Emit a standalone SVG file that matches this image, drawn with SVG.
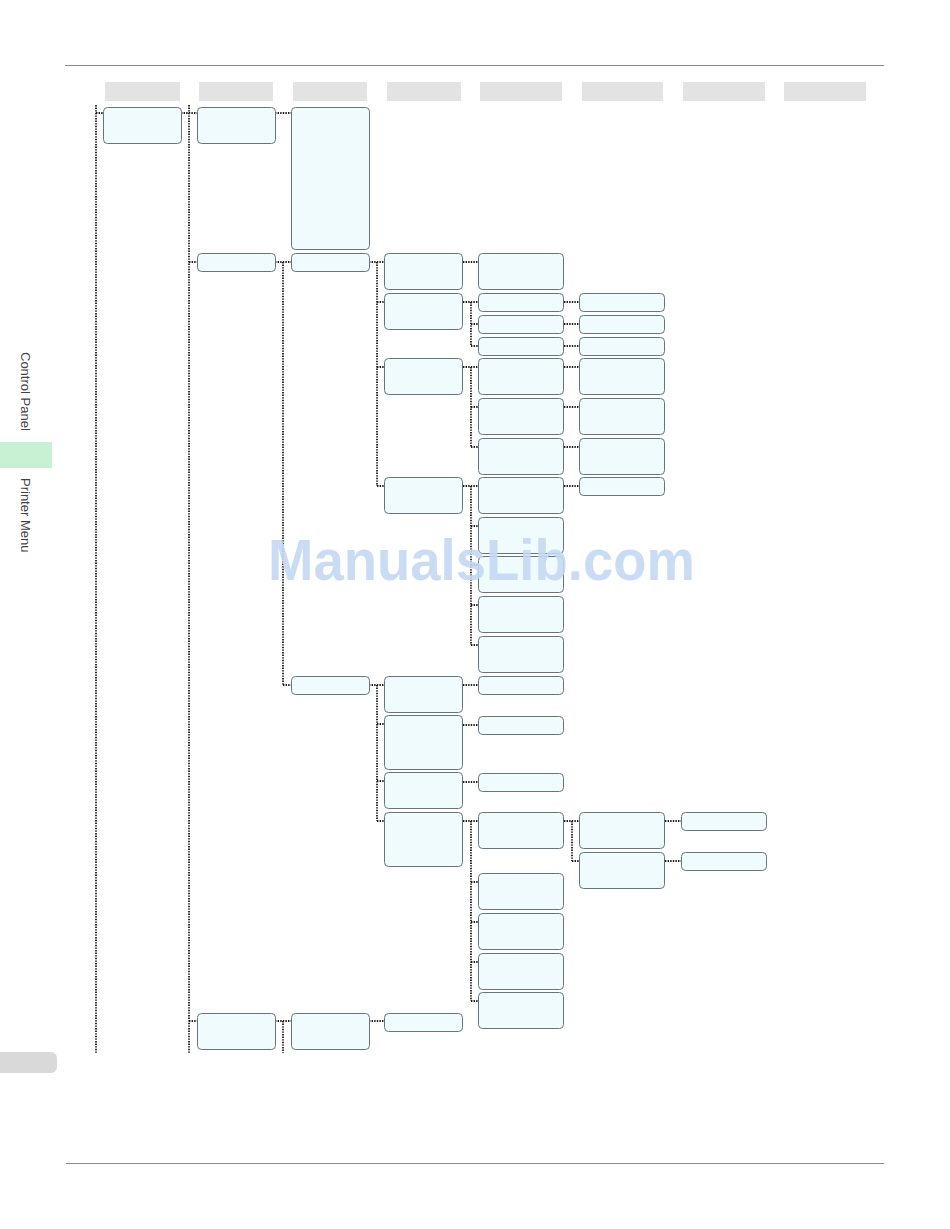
<svg xmlns="http://www.w3.org/2000/svg" width="950" height="1229" viewBox="0 0 950 1229">
<style>
.n{fill:#f0fbfe;stroke:#647679;stroke-width:1}
.h{fill:#e3e3e3}
.c{fill:none;stroke:#1a1a1a;stroke-width:1.8;stroke-dasharray:1.4 1.2}
.side{font-family:"Liberation Sans",Arial,sans-serif;font-size:13px;fill:#444}
.rule{stroke:#8a8a8a;stroke-width:1}
</style>
<rect width="950" height="1229" fill="#fff"/>
<line class="rule" x1="65" y1="65.5" x2="884" y2="65.5"/>
<line class="rule" x1="66" y1="1163.5" x2="884" y2="1163.5"/>
<g id="headers">
<rect class="h" x="105" y="82" width="75" height="19"/>
<rect class="h" x="199" y="82" width="74" height="19"/>
<rect class="h" x="293" y="82" width="74" height="19"/>
<rect class="h" x="387" y="82" width="74" height="19"/>
<rect class="h" x="480" y="82" width="82" height="19"/>
<rect class="h" x="582" y="82" width="81" height="19"/>
<rect class="h" x="683" y="82" width="82" height="19"/>
<rect class="h" x="784" y="82" width="82" height="19"/>
</g>
<g id="sidebar">
<text class="side" transform="translate(21,352) rotate(90)">Control Panel</text>
<rect x="0" y="442" width="52" height="26" fill="#c8f0d2"/>
<text class="side" transform="translate(21,478) rotate(90)">Printer Menu</text>
<path d="M0 1052 H51 a6 6 0 0 1 6 6 V1067 a6 6 0 0 1 -6 6 H0 Z" fill="#d9d9d9"/>
</g>
<g id="connectors">
<path class="c" d="M96 105 V1053 M189 105 V1053 M283 262 V685 M283 1021 V1053 M377 262 V486 M377 685 V821 M471 302 V346 M471 367 V447 M471 486 V645 M471 821 V1001 M572 821 V861"/>
<path class="c" d="M96 113 H103 M181 113 H197 M189 262 H197 M189 1021 H197 M275 113 H291 M275 262 H291 M275 1021 H291 M283 685 H291"/>
<path class="c" d="M369 262 H384 M369 685 H384 M369 1021 H384 M377 302 H384 M377 367 H384 M377 486 H384 M377 724 H384 M377 781 H384 M377 821 H384"/>
<path class="c" d="M463 262 H478 M463 302 H478 M463 367 H478 M463 486 H478 M463 685 H478 M463 725 H478 M463 782 H478 M463 821 H478 M471 324 H478 M471 346 H478 M471 407 H478 M471 447 H478 M471 526 H478 M471 565 H478 M471 605 H478 M471 645 H478 M471 882 H478 M471 922 H478 M471 962 H478 M471 1001 H478"/>
<path class="c" d="M564 302 H579 M564 324 H579 M564 346 H579 M564 367 H579 M564 407 H579 M564 447 H579 M564 486 H579 M564 821 H579 M572 861 H579 M665 821 H681 M665 861 H681"/>
</g>
<g id="col1"><rect id="n1" class="n" x="103.5" y="107.5" width="78" height="36" rx="4"/></g>
<g id="col2">
<rect id="n2a" class="n" x="197.5" y="107.5" width="78" height="36" rx="4"/>
<rect id="n2b" class="n" x="197.5" y="253.5" width="78" height="18" rx="4"/>
<rect id="n2c" class="n" x="197.5" y="1013.5" width="78" height="36" rx="4"/>
</g>
<g id="col3">
<rect id="n3a" class="n" x="291.5" y="107.5" width="78" height="142" rx="4"/>
<rect id="n3b" class="n" x="291.5" y="253.5" width="78" height="18" rx="4"/>
<rect id="n3c" class="n" x="291.5" y="676.5" width="78" height="18" rx="4"/>
<rect id="n3d" class="n" x="291.5" y="1013.5" width="78" height="36" rx="4"/>
</g>
<g id="col4">
<rect id="n4a" class="n" x="384.5" y="253.5" width="78" height="36" rx="4"/>
<rect id="n4b" class="n" x="384.5" y="293.5" width="78" height="36" rx="4"/>
<rect id="n4c" class="n" x="384.5" y="358.5" width="78" height="36" rx="4"/>
<rect id="n4d" class="n" x="384.5" y="477.5" width="78" height="36" rx="4"/>
<rect id="n4e" class="n" x="384.5" y="676.5" width="78" height="36" rx="4"/>
<rect id="n4f" class="n" x="384.5" y="715.5" width="78" height="54" rx="4"/>
<rect id="n4g" class="n" x="384.5" y="772.5" width="78" height="36" rx="4"/>
<rect id="n4h" class="n" x="384.5" y="812.5" width="78" height="54" rx="4"/>
<rect id="n4i" class="n" x="384.5" y="1013.5" width="78" height="18" rx="4"/>
</g>
<g id="col5">
<rect id="n5a" class="n" x="478.5" y="253.5" width="85" height="36" rx="4"/>
<rect id="n5b" class="n" x="478.5" y="293.5" width="85" height="18" rx="4"/>
<rect id="n5c" class="n" x="478.5" y="315.5" width="85" height="18" rx="4"/>
<rect id="n5d" class="n" x="478.5" y="337.5" width="85" height="18" rx="4"/>
<rect id="n5e" class="n" x="478.5" y="358.5" width="85" height="36" rx="4"/>
<rect id="n5f" class="n" x="478.5" y="398.5" width="85" height="36" rx="4"/>
<rect id="n5g" class="n" x="478.5" y="438.5" width="85" height="36" rx="4"/>
<rect id="n5h" class="n" x="478.5" y="477.5" width="85" height="36" rx="4"/>
<rect id="n5i" class="n" x="478.5" y="517.5" width="85" height="36" rx="4"/>
<rect id="n5j" class="n" x="478.5" y="556.5" width="85" height="36" rx="4"/>
<rect id="n5k" class="n" x="478.5" y="596.5" width="85" height="36" rx="4"/>
<rect id="n5l" class="n" x="478.5" y="636.5" width="85" height="36" rx="4"/>
<rect id="n5m" class="n" x="478.5" y="676.5" width="85" height="18" rx="4"/>
<rect id="n5n" class="n" x="478.5" y="716.5" width="85" height="18" rx="4"/>
<rect id="n5o" class="n" x="478.5" y="773.5" width="85" height="18" rx="4"/>
<rect id="n5p" class="n" x="478.5" y="812.5" width="85" height="36" rx="4"/>
<rect id="n5q" class="n" x="478.5" y="873.5" width="85" height="36" rx="4"/>
<rect id="n5r" class="n" x="478.5" y="913.5" width="85" height="36" rx="4"/>
<rect id="n5s" class="n" x="478.5" y="953.5" width="85" height="36" rx="4"/>
<rect id="n5t" class="n" x="478.5" y="992.5" width="85" height="36" rx="4"/>
</g>
<g id="col6">
<rect id="n6a" class="n" x="579.5" y="293.5" width="85" height="18" rx="4"/>
<rect id="n6b" class="n" x="579.5" y="315.5" width="85" height="18" rx="4"/>
<rect id="n6c" class="n" x="579.5" y="337.5" width="85" height="18" rx="4"/>
<rect id="n6d" class="n" x="579.5" y="358.5" width="85" height="36" rx="4"/>
<rect id="n6e" class="n" x="579.5" y="398.5" width="85" height="36" rx="4"/>
<rect id="n6f" class="n" x="579.5" y="438.5" width="85" height="36" rx="4"/>
<rect id="n6g" class="n" x="579.5" y="477.5" width="85" height="18" rx="4"/>
<rect id="n6h" class="n" x="579.5" y="812.5" width="85" height="36" rx="4"/>
<rect id="n6i" class="n" x="579.5" y="852.5" width="85" height="36" rx="4"/>
</g>
<g id="col7">
<rect id="n7a" class="n" x="681.5" y="812.5" width="85" height="18" rx="4"/>
<rect id="n7b" class="n" x="681.5" y="852.5" width="85" height="18" rx="4"/>
</g>
<text id="watermark" x="268" y="580" font-family="'Liberation Sans',Arial,sans-serif" font-weight="bold" font-size="57" textLength="427" lengthAdjust="spacingAndGlyphs" fill="#c3d8f2" fill-opacity="0.9">ManualsLib.com</text>
</svg>
